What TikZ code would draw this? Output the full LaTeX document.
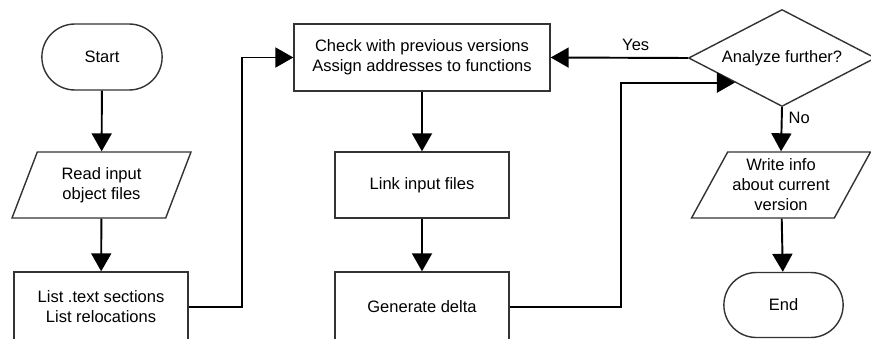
\documentclass[tikz,border=0pt]{standalone}
\usepackage{fontspec}
\setmainfont{Liberation Sans}
\usetikzlibrary{shapes.geometric,shapes.misc,arrows.meta}
\tikzset{
  box/.style={draw=black!80, line width=0.8pt, minimum width=3.48cm, minimum height=1.32cm, align=center},
  term/.style={draw=black!80, line width=0.8pt, rounded rectangle, minimum width=2.64cm, minimum height=1.32cm},
  io/.style={draw=black!80, line width=0.8pt, trapezium, trapezium left angle=57, trapezium right angle=123,
    trapezium stretches body, minimum width=3.58cm, minimum height=1.32cm, inner sep=1pt, align=center},
  decision/.style={draw=black!80, line width=0.8pt, diamond, aspect=1.93, minimum width=3.74cm, minimum height=1.94cm, inner sep=0pt},
  arr/.style={-{Triangle[width=0.4cm,length=0.36cm]}, line width=1.1pt}
}
\begin{document}
\begin{tikzpicture}[x=0.02cm, y=-0.02cm, font=\fontsize{9.4}{11.4}\selectfont]
  \useasboundingbox (0,0) rectangle (871,338);
  % left column
  \node[term] (start) at (102,57) {Start};
  \node[io] (read) at (101.5,185) {Read input\\object files};
  \node[box, minimum height=1.4cm] (list) at (101,307) {List .text sections\\List relocations};
  % middle column
  \node[box, minimum width=5.12cm, minimum height=1.34cm] (check) at (422,57.5) {Check with previous versions\\Assign addresses to functions};
  \node[box] (link) at (422,185) {Link input files};
  \node[box, minimum height=1.4cm] (gen) at (422,307) {Generate delta};
  % right column
  \node[decision] (ask) at (782,58) {Analyze further?};
  \node[io] (write) at (781,185) {Write info\\about current\\version};
  \node[term, minimum width=2.62cm, minimum height=1.3cm] (end) at (783.5,305) {End};

  \draw[arr] (start) -- (read);
  \draw[arr] (read) -- (list);
  \draw[arr] (list.east) -- ++(53,0) |- (check.west);
  \draw[arr] (check) -- (link);
  \draw[arr] (link) -- (gen);
  \draw[arr] (gen.east) -- ++(111,0) |- (ask.south west);
  \draw[arr] (ask.west) -- node[above, pos=0.38] {Yes} (check.east);
  \draw[arr] (ask.south) -- node[right, pos=0.25] {No} (write.north);
  \draw[arr] (write) -- (end);
\end{tikzpicture}
\end{document}
